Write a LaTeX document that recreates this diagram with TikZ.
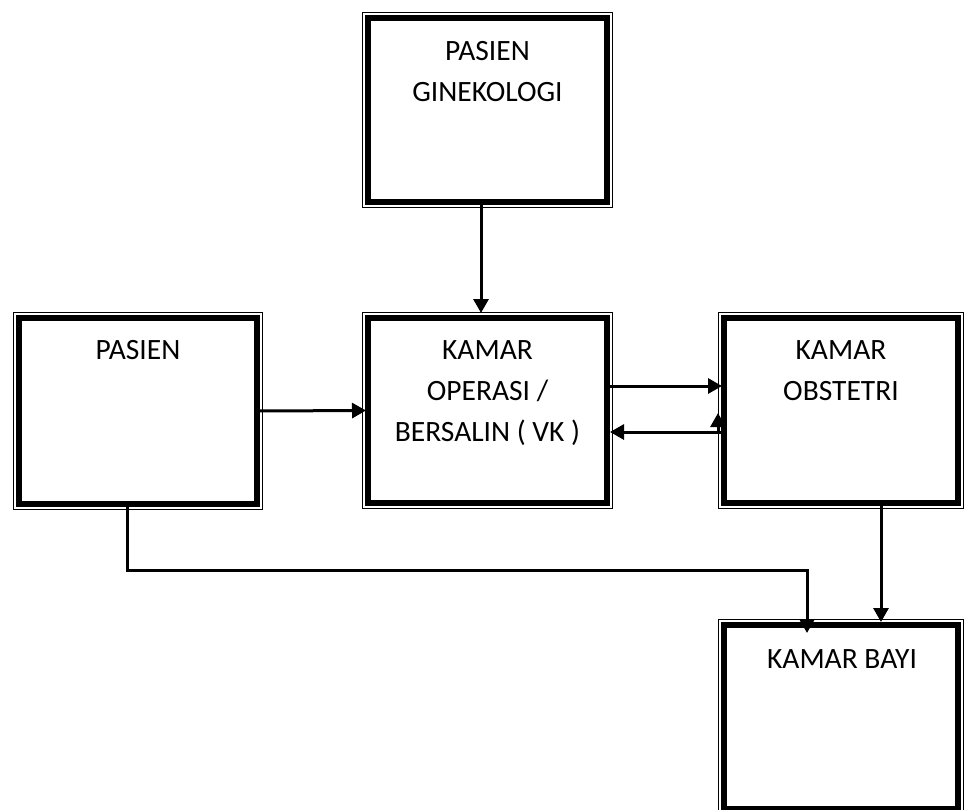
\documentclass[tikz,border=0pt]{standalone}
\usepackage{fontspec}
\setmainfont{Carlito}
\usetikzlibrary{arrows.meta}
\tikzset{
  roombox/.style={draw, line width=6.5pt, rectangle, outer sep=0pt, inner sep=0pt},
  outerframe/.style={draw, line width=1.5pt},
  lbl/.style={anchor=north, align=center, inner sep=0pt, font={\fontsize{29.5}{41}\selectfont}},
  arr/.style={draw, line width=3pt, -{Triangle[length=14pt,width=15pt]}},
}
\begin{document}
\begin{tikzpicture}[x=1pt,y=-1pt]
\useasboundingbox (0,0) rectangle (966,809);
% boxes (thick inner line)
\node[roombox, minimum width=239pt, minimum height=184pt] (G) at (487.5,110) {};
\node[roombox, minimum width=238pt, minimum height=186pt] (P) at (138,411) {};
\node[roombox, minimum width=239pt, minimum height=185pt] (O) at (487.5,410.5) {};
\node[roombox, minimum width=234pt, minimum height=185pt] (B) at (841,410.5) {};
\node[roombox, minimum width=234pt, minimum height=184pt] (Y) at (841,717) {};
% thin outer frames
\foreach \n in {G,P,O,B,Y}{
  \draw[outerframe] ([shift={(-5.6pt,5.6pt)}]\n.north west) rectangle ([shift={(5.6pt,-5.6pt)}]\n.south east);
}
% labels
\node[lbl] (Gt) at (487.5,41.5) {PASIEN\\GINEKOLOGI};
\node[lbl] (Pt) at (138,340) {PASIEN};
\node[lbl] (Ot) at (487.5,340) {KAMAR\\OPERASI /\\BERSALIN ( VK )};
\node[lbl] (Bt) at (841,340) {KAMAR\\OBSTETRI};
\node[lbl] (Yt) at (842,649) {KAMAR BAYI};
% connectors
\draw[arr] ([xshift=-6.5pt]G.south) -- ([xshift=-6.5pt,yshift=5pt]O.north);
\draw[arr] (P.east) -- ([xshift=-2pt]O.west);
\draw[arr] ([yshift=24.5pt]O.east) -- ([xshift=-2pt,yshift=24.5pt]B.west);
\draw[arr] ([yshift=-21.5pt]B.west) -- ([xshift=3pt,yshift=-21.5pt]O.east);
\draw[arr] ([xshift=-6pt,yshift=-21.5pt]B.west) -- ([xshift=-6pt,yshift=-2.5pt]B.west);
\draw[arr] ([xshift=-11pt]P.south) -- ++(0,66) -| ([xshift=-34pt,yshift=-8pt]Y.north);
\draw[arr] ([xshift=40pt]B.south) -- ([xshift=40pt,yshift=3pt]Y.north);
\end{tikzpicture}
\end{document}
